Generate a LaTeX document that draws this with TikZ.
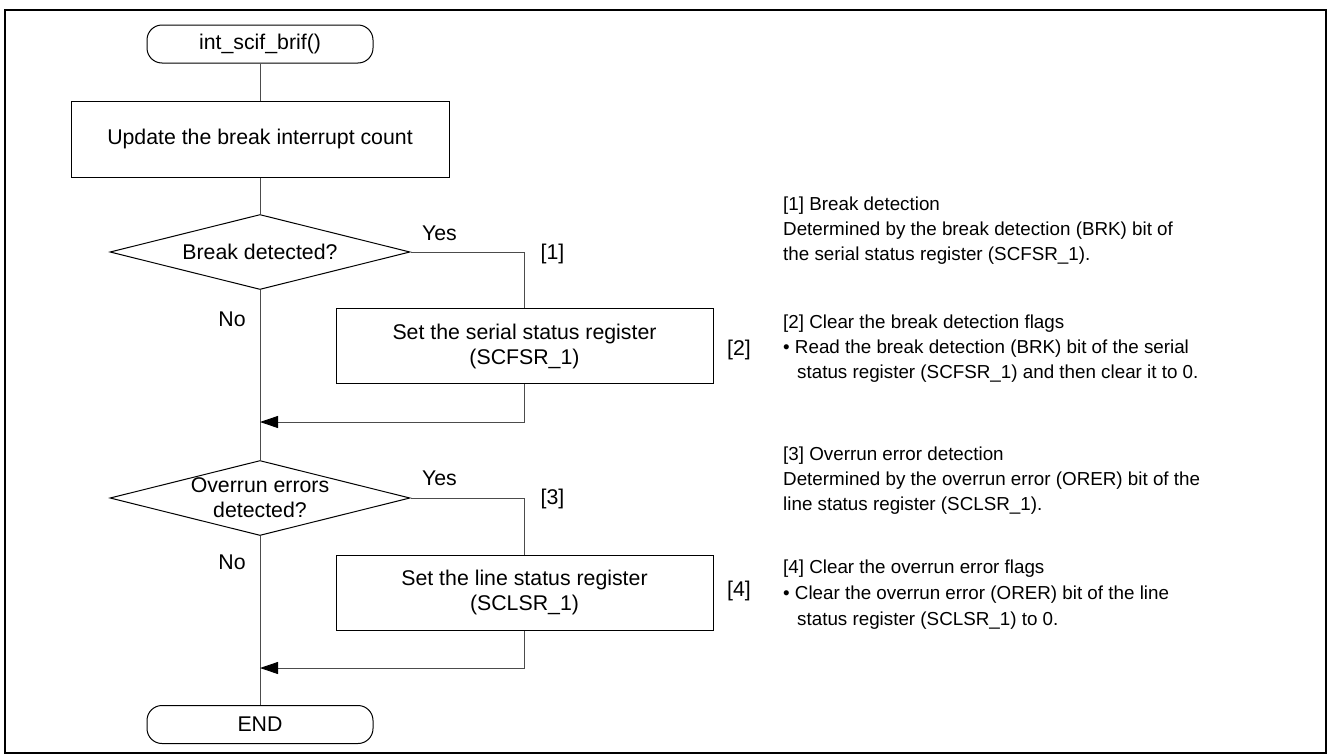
\documentclass[tikz,border=0pt]{standalone}
\usepackage{fontspec}
\setmainfont{Liberation Sans}
\usetikzlibrary{shapes.geometric,arrows.meta}
\begin{document}
\begin{tikzpicture}[x=1pt,y=-1pt,
  every node/.style={font=\fontsize{21.3}{25}\selectfont, inner sep=0pt, text=black},
  term/.style={draw, line width=1pt, rounded corners=15pt, minimum width=226pt, minimum height=38pt},
  proc/.style={draw, line width=1pt, minimum width=378pt, minimum height=76pt, align=center},
  subbox/.style={draw, line width=1pt, minimum width=377pt, minimum height=75pt, align=center},
  dec/.style={draw, line width=1pt, diamond, aspect=4, minimum width=300pt, minimum height=75pt, align=center},
  conn/.style={draw=black!70, line width=0.9pt},
  arr/.style={-{Triangle[length=18pt,width=12pt,color=black]}},
  lbl/.style={anchor=center},
  txt/.style={anchor=base west, font=\fontsize{18.8}{25}\selectfont}]
\useasboundingbox (0,0) rectangle (1328,755);
\draw[line width=2pt] (5,10) rectangle (1326,753);

% flowchart nodes
\node[term] (start) at (260,44) {int\_scif\_brif()};
\node[proc] (upd) at (260,139) {Update the break interrupt count};
\node[dec] (d1) at (260,252) {Break detected?};
\node[subbox] (s1) at (524.5,346) {Set the serial status register\\(SCFSR\_1)};
\coordinate (j1) at (260,422);
\node[dec] (d2) at (260,498) {Overrun errors\\detected?};
\node[subbox] (s2) at (524.5,592.5) {Set the line status register\\(SCLSR\_1)};
\coordinate (j2) at (260,668);
\node[term] (end) at (260,724.5) {END};

% connectors
\draw[conn] (start) -- (upd);
\draw[conn] (upd) -- (d1);
\draw[conn] (d1.south) -- (d2.north);
\draw[conn] (d2.south) -- (end.north);
\draw[conn] (d1.east) -| (s1.north);
\draw[conn,arr] (s1.south) |- (j1);
\draw[conn] (d2.east) -| (s2.north);
\draw[conn,arr] (s2.south) |- (j2);

% labels
\node[lbl] (yes1) at (439.5,233) {Yes};
\node[lbl] (no1) at (232,319) {No};
\node[lbl] (m1) at (552.5,254) {[1]};
\node[lbl] (m2) at (739,350) {[2]};
\node[lbl] (yes2) at (439.5,478.5) {Yes};
\node[lbl] (no2) at (232,562.5) {No};
\node[lbl] (m3) at (552.5,499) {[3]};
\node[lbl] (m4) at (739,591) {[4]};

% notes
\node[txt] (n1a) at (783,210.5) {[1] Break detection};
\node[txt] (n1b) at (783,235.5) {Determined by the break detection (BRK) bit of};
\node[txt] (n1c) at (783,260.5) {the serial status register (SCFSR\_1).};
\node[txt] (n2a) at (783,328.5) {[2] Clear the break detection flags};
\node[txt] (n2b) at (783,353.5) {\textbullet\ Read the break detection (BRK) bit of the serial};
\node[txt] (n2c) at (797,378.5) {status register (SCFSR\_1) and then clear it to 0.};
\node[txt] (n3a) at (783,460.5) {[3] Overrun error detection};
\node[txt] (n3b) at (783,485.5) {Determined by the overrun error (ORER) bit of the};
\node[txt] (n3c) at (783,510.5) {line status register (SCLSR\_1).};
\node[txt] (n4a) at (783,573.5) {[4] Clear the overrun error flags};
\node[txt] (n4b) at (783,599.5) {\textbullet\ Clear the overrun error (ORER) bit of the line};
\node[txt] (n4c) at (797,625.5) {status register (SCLSR\_1) to 0.};
\end{tikzpicture}
\end{document}
